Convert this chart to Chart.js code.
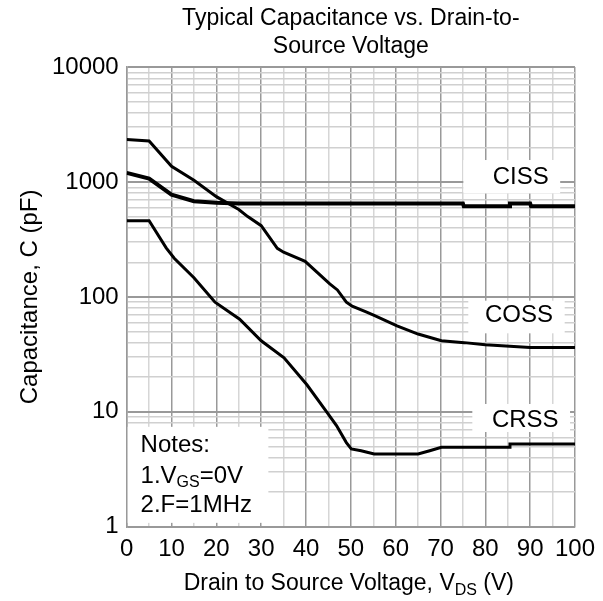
<!DOCTYPE html>
<html>
<head>
<meta charset="utf-8">
<script src="https://cdn.jsdelivr.net/npm/chart.js@4.4.0/dist/chart.umd.min.js"></script>
<style>
  html, body { margin: 0; padding: 0; background: #fff; }
  #wrap { width: 603px; height: 601px; }
</style>
</head>
<body>
<div id="wrap"><canvas id="capChart" width="603" height="601"></canvas></div>
<script>
// values (VDS in volts, C in pF)
const cissV = [0, 5, 10, 15, 20, 25, 75, 75.2, 85.3, 85.5, 90, 90.2, 100];
const cissC = [1200, 1070, 775, 680, 660, 650, 650, 615, 615, 650, 650, 615, 615];

const cossV = [0, 5, 10, 15, 20, 25, 27, 30, 33.6, 35, 39.8, 45.3, 47, 49, 50.3, 53.4, 55.2, 60.3, 65, 70.2, 75.3, 80, 90, 100];
const cossC = [2350, 2280, 1370, 1035, 746, 577, 500, 417, 265, 245, 204, 130, 115, 90, 83, 74, 69, 56, 47.5, 41.5, 40, 38.3, 36.3, 36.3];

const crssV = [0, 5, 8.8, 10.6, 15, 19.7, 25.2, 30, 35.1, 40.2, 44.6, 46.8, 49, 50.1, 52.3, 55.2, 65, 67.6, 70.2, 85.3, 85.5, 100];
const crssC = [460, 460, 267, 217, 147, 90, 64, 41.5, 29.5, 17.2, 10, 7.6, 5.4, 4.75, 4.58, 4.29, 4.29, 4.58, 4.91, 4.91, 5.25, 5.25];

const xTickLabels = [0, 10, 20, 30, 40, 50, 60, 70, 80, 90, 100];
const yTickLabels = [1, 10, 100, 1000, 10000];
const titleLines = ['Typical Capacitance vs. Drain-to-', 'Source Voltage'];

const FONT = "'Liberation Sans', Arial, sans-serif";

// log grid: 1..9 in every decade
const yGridValues = [];
yTickLabels.slice(0, -1).forEach(d => {
  for (let k = 1; k < 10; k++) yGridValues.push(k * d);
});
yGridValues.push(10000);

const pts = (xs, ys) => xs.map((x, i) => ({ x: x, y: ys[i] }));

function font(size) { return size + 'px ' + FONT; }

// text with subscripts, parts = [[text, isSub], ...]
function richText(ctx, parts, x, y, size, align) {
  const subSize = Math.round(size * 0.68);
  let total = 0;
  const widths = parts.map(p => {
    ctx.font = font(p[1] ? subSize : size);
    const w = ctx.measureText(p[0]).width;
    total += w;
    return w;
  });
  let cx = align === 'center' ? x - total / 2 : x;
  ctx.textAlign = 'left';
  ctx.textBaseline = 'alphabetic';
  const base = y + size * 0.36;
  parts.forEach((p, i) => {
    ctx.font = font(p[1] ? subSize : size);
    ctx.fillText(p[0], cx, p[1] ? base + size * 0.2 : base);
    cx += widths[i];
  });
}

const labelPlugin = {
  id: 'labels',
  beforeDatasetsDraw(chart) {
    const c = chart.ctx, xs = chart.scales.x, ys = chart.scales.y;
    const boxes = [
      { text: 'CISS', x0: 75.1, x1: 96.7, y0: 1554, y1: 797, tx: 87.9, ty: 1106 },
      { text: 'COSS', x0: 76.2, x1: 97.7, y0: 92.7, y1: 48.2, tx: 87.5, ty: 69.2 },
      { text: 'CRSS', x0: 77.1, x1: 98.9, y0: 11.7, y1: 6.67, tx: 88.9, ty: 8.5 }
    ];
    c.save();
    c.fillStyle = '#fff';
    boxes.forEach(b => {
      const l = xs.getPixelForValue(b.x0), r = xs.getPixelForValue(b.x1);
      const t = ys.getPixelForValue(b.y0), bt = ys.getPixelForValue(b.y1);
      c.fillRect(l, t, r - l, bt - t);
    });
    // notes box
    const nl = xs.getPixelForValue(0) + 1, nr = xs.getPixelForValue(31.6);
    const nt = ys.getPixelForValue(7.4), nb = ys.getPixelForValue(1.08);
    c.fillRect(nl, nt, nr - nl, nb - nt);

    c.fillStyle = '#000';
    c.font = font(24);
    c.textAlign = 'center';
    c.textBaseline = 'middle';
    boxes.forEach(b => c.fillText(b.text, xs.getPixelForValue(b.tx), ys.getPixelForValue(b.ty)));

    const nx = xs.getPixelForValue(3.1);
    richText(c, [['Notes:', false]], nx, ys.getPixelForValue(5.35), 24, 'left');
    richText(c, [['1.V', false], ['GS', true], ['=0V', false]], nx, ys.getPixelForValue(2.88), 24, 'left');
    richText(c, [['2.F=1MHz', false]], nx, ys.getPixelForValue(1.61), 24, 'left');
    c.restore();
  },
  afterDraw(chart) {
    const c = chart.ctx, a = chart.chartArea;
    c.save();
    c.fillStyle = '#000';
    richText(c, [['Drain to Source Voltage, V', false], ['DS', true], [' (V)', false]],
      (a.left + a.right) / 2 - 2, 582, 23, 'center');
    c.translate(28, (a.top + a.bottom) / 2);
    c.rotate(-Math.PI / 2);
    richText(c, [['Capacitance, C (pF)', false]], 0, 0, 24, 'center');
    c.restore();
  }
};

const ctx = document.getElementById('capChart').getContext('2d');

new Chart(ctx, {
  type: 'line',
  data: {
    datasets: [
      { label: 'CISS', data: pts(cissV, cissC), borderColor: '#000', borderWidth: 4 },
      { label: 'COSS', data: pts(cossV, cossC), borderColor: '#000', borderWidth: 3 },
      { label: 'CRSS', data: pts(crssV, crssC), borderColor: '#000', borderWidth: 3 }
    ]
  },
  options: {
    responsive: false,
    animation: false,
    elements: { point: { radius: 0 }, line: { tension: 0, fill: false } },
    layout: { padding: { left: 0, right: 20, top: 0, bottom: 0 } },
    plugins: {
      legend: { display: false },
      tooltip: { enabled: false },
      title: {
        display: true,
        fullSize: false,
        text: titleLines,
        color: '#000',
        font: { family: FONT, size: 23, weight: 'normal', lineHeight: 1.22 },
        padding: { top: 5, bottom: 6 }
      }
    },
    scales: {
      x: {
        type: 'linear',
        min: 0,
        max: 100,
        ticks: {
          stepSize: 5,
          autoSkip: false,
          maxRotation: 0,
          padding: 8,
          color: '#000',
          font: { family: FONT, size: 24 },
          callback: v => xTickLabels.includes(v) ? String(v) : ''
        },
        grid: {
          drawTicks: false,
          lineWidth: 1.5,
          color: c => xTickLabels.includes(c.tick.value) ? '#999' : '#d6d6d6'
        },
        border: { color: '#999', width: 1.5 },
        afterFit: s => { s.height = 74.3; }
      },
      y: {
        type: 'logarithmic',
        min: 1,
        max: 10000,
        afterBuildTicks: s => { s.ticks = yGridValues.map(v => ({ value: v })); },
        ticks: {
          autoSkip: false,
          padding: 8,
          color: '#000',
          font: { family: FONT, size: 24 },
          callback: v => yTickLabels.includes(v) ? String(v) : ''
        },
        grid: {
          drawTicks: false,
          lineWidth: c => yTickLabels.includes(c.tick.value) ? 2 : 1.5,
          color: c => yTickLabels.includes(c.tick.value) ? '#999' : '#d0d0d0'
        },
        border: { color: '#999', width: 1.5 },
        afterFit: s => { s.width = 126.7; }
      }
    }
  },
  plugins: [labelPlugin]
});
</script>
</body>
</html>
